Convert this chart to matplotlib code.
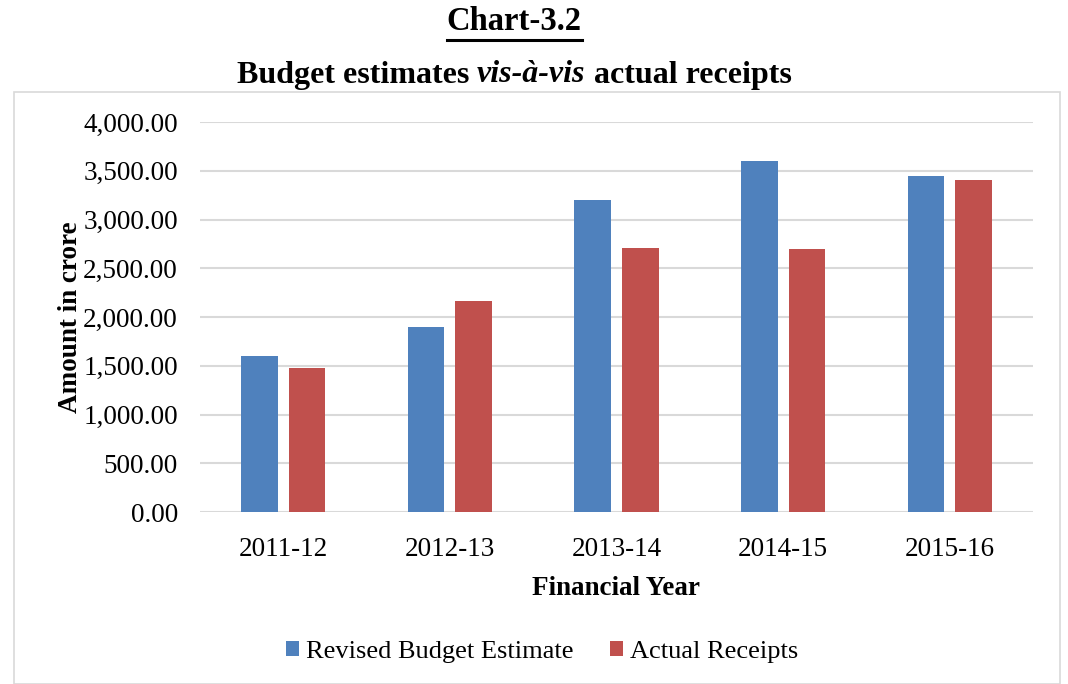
import matplotlib
matplotlib.use("Agg")
import matplotlib.pyplot as plt
import numpy as np
from matplotlib.patches import Rectangle
from matplotlib.lines import Line2D

years = ["2011-12", "2012-13", "2013-14", "2014-15", "2015-16"]
revised_be = [1595, 1900, 3195, 3595, 3445]
actual_receipts = [1472, 2165, 2705, 2695, 3405]
series_names = ["Revised Budget Estimate", "Actual Receipts"]
y_ticks = [0, 500, 1000, 1500, 2000, 2500, 3000, 3500, 4000]

BLUE = "#4f81bd"
RED = "#c0504d"
GRID = "#d9d9d9"
SERIF = ["Liberation Serif", "DejaVu Serif"]

plt.rcParams["font.family"] = SERIF

W, H = 1068, 684
fig = plt.figure(figsize=(W / 100, H / 100), dpi=100)

# chart area border
fig.patches.append(Rectangle((14 / W, 0), (1060 - 14) / W, (H - 92) / H,
                             transform=fig.transFigure, fill=False,
                             edgecolor=GRID, lw=1.2))

ax = fig.add_axes([200 / W, (H - 512) / H, (1033 - 200) / W, (512 - 122) / H])
x = np.arange(len(years))
bw = 0.22
gap = 0.065
b1 = ax.bar(x - (bw + gap) / 2, revised_be, bw, color=BLUE, label=series_names[0], zorder=3)
b2 = ax.bar(x + (bw + gap) / 2, actual_receipts, bw, color=RED, label=series_names[1], zorder=3)

ax.set_xlim(-0.5, len(years) - 0.5)
ax.set_ylim(0, 4000)
ax.set_yticks(y_ticks)
ax.set_yticklabels([f"{v:,.2f}" for v in y_ticks])
ax.set_xticks(x)
ax.set_xticklabels(years)
ax.tick_params(axis="both", length=0, labelsize=19.5, colors="black")
ax.tick_params(axis="y", pad=16)
ax.tick_params(axis="x", pad=18)
ax.grid(axis="y", color=GRID, lw=1.5, zorder=0)
for s in ax.spines.values():
    s.set_visible(False)

ax.set_xlabel("Financial Year", fontsize=19.5, fontweight="bold", labelpad=10)
ax.set_ylabel("Amount in crore", fontsize=19.5, fontweight="bold", labelpad=0)

ax.legend(handles=[b1, b2], loc="center", bbox_to_anchor=((542) / W, (H - 652) / H),
          bbox_transform=fig.transFigure, ncol=2, frameon=False, fontsize=19,
          handlelength=0.5, handleheight=0.5, handletextpad=0.25, columnspacing=1.4)

CX = 514 / W

# title with underline
t = fig.text(CX, 1 - 22 / H, "Chart-3.2", ha="center", va="center",
             fontsize=23.5, fontweight="bold")
fig.canvas.draw()
r = fig.canvas.get_renderer()
bb = t.get_window_extent(r)
uy = (H - 40) / H
fig.add_artist(Line2D([bb.x0 / W, bb.x1 / W], [uy, uy],
                      transform=fig.transFigure, color="black", lw=2.2))

# subtitle with italic middle part
parts = [("Budget estimates ", "normal"), ("vis-à-vis", "italic"), (" actual receipts", "normal")]
ys = 1 - 75 / H
texts = []
for s, style in parts:
    tt = fig.text(0, ys, s, ha="left", va="center", fontsize=23,
                  fontweight="bold", fontstyle=style)
    texts.append(tt)
fig.canvas.draw()
widths = [tt.get_window_extent(r).width for tt in texts]
xpos = CX * W - sum(widths) / 2
for tt, w in zip(texts, widths):
    tt.set_x(xpos / W)
    xpos += w

fig.savefig("out.png", dpi=100)
